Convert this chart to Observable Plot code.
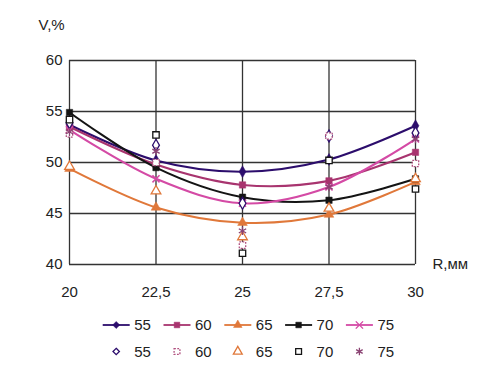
<!DOCTYPE html>
<html><head><meta charset="utf-8">
<script src="https://cdn.jsdelivr.net/npm/d3@7"></script>
<script src="https://cdn.jsdelivr.net/npm/@observablehq/plot@0.6"></script>
<style>body{margin:0;background:#fff;font-family:"Liberation Sans",Arial,sans-serif}#chart svg{display:block}</style>
</head><body><div id="chart"></div><script>
const R = [20, 22.5, 25, 27.5, 30];
const names = ["55", "60", "65", "70", "75"];
// calculated curves (lines with filled markers)
const calc55 = [53.7, 50.2, 49.1, 50.3, 53.6];
const calc60 = [53.5, 49.8, 47.8, 48.2, 51.0];
const calc65 = [49.4, 45.6, 44.1, 44.9, 48.1];
const calc70 = [54.9, 49.5, 46.6, 46.3, 48.4];
const calc75 = [53.2, 48.4, 46.0, 47.6, 52.3];
// experimental points (open markers)
const exp55 = [53.9, 51.7, 46.0, 52.6, 52.9];
const exp60 = [52.8, 50.0, 41.9, 52.6, 49.9];
const exp65 = [49.6, 47.2, 42.7, 45.5, 48.4];
const exp70 = [54.2, 52.7, 41.1, 50.2, 47.4];
const exp75 = [53.0, 51.1, 43.3, 47.6, 52.3];
const yTicks = [40, 45, 50, 55, 60];
const xTicks = [20, 22.5, 25, 27.5, 30];

const calc = [calc55, calc60, calc65, calc70, calc75];
const exps = [exp55, exp60, exp65, exp70, exp75];
const lineColor = ["#2c0d6c", "#a8346f", "#e0783a", "#141414", "#d44aa5"];
const expColor = ["#2c0d6c", "#b0507f", "#e0783a", "#141414", "#8a4272"];
const lineSym = ["diamond", "square", "triangle", "square", "times"];
const expSym = ["diamond", "square", "triangle", "square", "asterisk"];
const fmt = d => String(d).replace(".", ",");

const marks = [
  Plot.ruleY(yTicks, {y: d => d, stroke: "#333", strokeWidth: 1.3}),
  Plot.ruleX(xTicks, {x: d => d, stroke: "#333", strokeWidth: 1.3})
];
calc.forEach((vals, i) => {
  const data = R.map((r, j) => ({r, v: vals[j]}));
  marks.push(Plot.line(data, {x: "r", y: "v", stroke: lineColor[i], strokeWidth: 2.1, curve: "catmull-rom"}));
});
calc.forEach((vals, i) => {
  const data = R.map((r, j) => ({r, v: vals[j]}));
  const stroked = lineSym[i] === "times";
  marks.push(Plot.dot(data, {x: "r", y: "v", symbol: lineSym[i], r: stroked ? 3.3 : 3.6,
    fill: stroked ? "none" : lineColor[i], stroke: lineColor[i], strokeWidth: stroked ? 1.5 : 0.5}));
});
exps.forEach((vals, i) => {
  const data = R.map((r, j) => ({r, v: vals[j]}));
  const star = expSym[i] === "asterisk";
  marks.push(Plot.dot(data, {x: "r", y: "v", symbol: expSym[i], r: star ? 4 : 3.6,
    fill: star ? "none" : "white", stroke: expColor[i], strokeWidth: 1.3,
    strokeDasharray: i === 1 ? "1.8,1.4" : null}));
});
marks.push(Plot.text(["V,%"], {frameAnchor: "top-left", textAnchor: "start", lineAnchor: "bottom", dx: -31, dy: -31, fontSize: 15, fill: "#222"}));
marks.push(Plot.text(["R,мм"], {frameAnchor: "bottom-right", textAnchor: "start", lineAnchor: "bottom", dx: 17, dy: 4, fontSize: 15, fill: "#222"}));

const plot = Plot.plot({
  width: 481, height: 305,
  marginLeft: 69, marginRight: 66, marginTop: 60, marginBottom: 41,
  style: {fontFamily: "'Liberation Sans', Arial, sans-serif", fontSize: "15px", color: "#222", background: "white", overflow: "visible"},
  x: {domain: [20, 30], ticks: xTicks, tickFormat: fmt, tickSize: 0, tickPadding: 22, label: null},
  y: {domain: [40, 60], ticks: yTicks, tickSize: 0, tickPadding: 7, label: null},
  marks
});
document.getElementById("chart").appendChild(plot);

// legend
const leg = d3.select("#chart").append("svg").attr("width", 481).attr("height", 73)
  .style("font-family", "'Liberation Sans', Arial, sans-serif").style("font-size", "15px");
const symMap = {diamond: d3.symbolDiamond2, square: d3.symbolSquare, triangle: d3.symbolTriangle, times: d3.symbolTimes, asterisk: d3.symbolAsterisk};
names.forEach((n, i) => {
  const x0 = 102.7 + 60.8 * i;
  const y1 = 20, y2 = 46.5;
  leg.append("line").attr("x1", x0).attr("x2", x0 + 27).attr("y1", y1).attr("y2", y1)
    .attr("stroke", lineColor[i]).attr("stroke-width", 1.8);
  const st = lineSym[i] === "times";
  leg.append("path").attr("d", d3.symbol(symMap[lineSym[i]], st ? 36 : 32)())
    .attr("transform", `translate(${x0 + 13.5},${y1})`)
    .attr("fill", st ? "none" : lineColor[i]).attr("stroke", lineColor[i]).attr("stroke-width", st ? 1.4 : 0.5);
  leg.append("text").attr("x", x0 + 31.5).attr("y", y1).attr("dy", "0.36em").attr("fill", "#222").text(n);
  const star = expSym[i] === "asterisk";
  leg.append("path").attr("d", d3.symbol(symMap[expSym[i]], star ? 40 : (i === 0 ? 26 : 34))())
    .attr("transform", `translate(${x0 + 13.5},${y2})`)
    .attr("fill", star ? "none" : "white").attr("stroke", expColor[i]).attr("stroke-width", 1.3)
    .attr("stroke-dasharray", i === 1 ? "1.8,1.4" : null);
  leg.append("text").attr("x", x0 + 31.5).attr("y", y2).attr("dy", "0.36em").attr("fill", "#222").text(n);
});
</script></body></html>
